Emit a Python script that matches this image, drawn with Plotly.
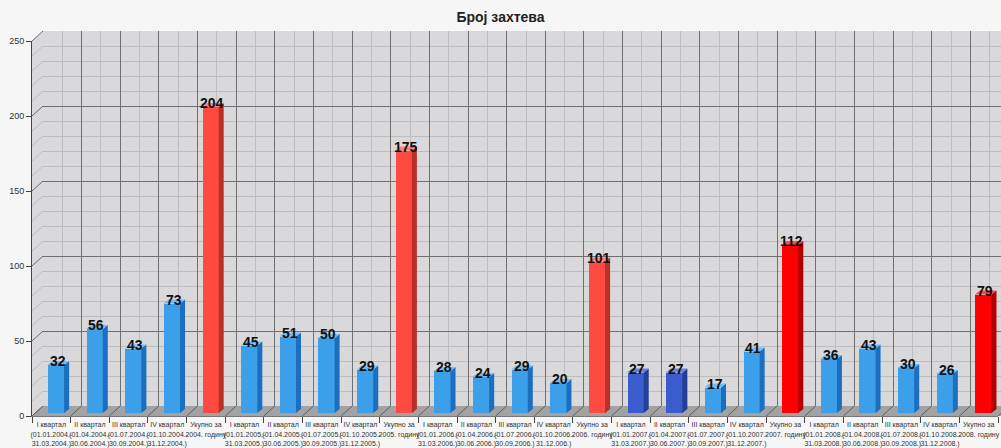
import plotly.graph_objects as go

# ---- data -------------------------------------------------------------
categories = [
    "I квартал<br>(01.01.2004.-<br>31.03.2004.)",
    "II квартал<br>(01.04.2004.-<br>30.06.2004.)",
    "III квартал<br>(01.07.2004.-<br>30.09.2004.)",
    "IV квартал<br>(01.10.2004.-<br>31.12.2004.)",
    "Укупно за<br>2004. годину",
    "I квартал<br>(01.01.2005.-<br>31.03.2005.)",
    "II квартал<br>(01.04.2005.-<br>30.06.2005.)",
    "III квартал<br>(01.07.2005.-<br>30.09.2005.)",
    "IV квартал<br>(01.10.2005.-<br>31.12.2005.)",
    "Укупно за<br>2005. годину",
    "I квартал<br>(01.01.2006.-<br>31.03.2006.)",
    "II квартал<br>(01.04.2006.-<br>30.06.2006.)",
    "III квартал<br>(01.07.2006.-<br>30.09.2006.)",
    "IV квартал<br>(01.10.2006.-<br>31.12.006.)",
    "Укупно за<br>2006. годину",
    "I квартал<br>(01.01.2007.-<br>31.03.2007.)",
    "II квартал<br>(01.04.2007.-<br>30.06.2007.)",
    "III квартал<br>(01.07.2007.-<br>30.09.2007.)",
    "IV квартал<br>(01.10.2007.-<br>31.12.2007.)",
    "Укупно за<br>2007. годину",
    "I квартал<br>(01.01.2008.-<br>31.03.2008.)",
    "II квартал<br>(01.04.2008.-<br>30.06.2008.)",
    "III квартал<br>(01.07.2008.-<br>30.09.2008.)",
    "IV квартал<br>(01.10.2008.-<br>31.12.2008.)",
    "Укупно за<br>2008. годину",
]
requests = [32, 56, 43, 73, 204,
            45, 51, 50, 29, 175,
            28, 24, 29, 20, 101,
            27, 27, 17, 41, 112,
            36, 43, 30, 26, 79]
bar_group = ["q", "q", "q", "q", "t1",
             "q", "q", "q", "q", "t1",
             "q", "q", "q", "q", "t1",
             "d", "d", "q", "q", "t2",
             "q", "q", "q", "q", "t2"]
y_ticks = [0, 50, 100, 150, 200, 250]

# ---- styling ---------------------------------------------------------
palette = {  # front, side, top
    "q": ("#3c9fea", "#1c6fbf", "#74bdf2"),
    "d": ("#3a5ccc", "#253f98", "#6482de"),
    "t1": ("#ff4a42", "#b92f29", "#ff8079"),
    "t2": ("#ff0000", "#b00000", "#ff4a4a"),
}
W, H = 1001, 448
L, R, T, B = 32, 0, 31, 32
PW, PH = W - L - R, H - T - B
BASE = H - B            # pixel row of the front floor edge
STEP = 38.64            # pixels per category
YMAX = 250
BACK_DX, BACK_DY = 11, 10
FRONT_W, FRONT_H = 25 * STEP, PH - BACK_DY
UNIT = FRONT_H / YMAX   # pixels per request
BAR_DX, BAR_DY = 4.5, 3
BAR_W = 0.43
DEPTH_X, DEPTH_Y = 5 / STEP, 4 / UNIT


def px(x):
    return (x - L) / PW


def py(y):
    return (H - B - y) / PH


n = len(requests)
fig = go.Figure()

for key, (front, side, top) in palette.items():
    idx = [i for i in range(n) if bar_group[i] == key]
    # front faces
    fig.add_trace(go.Bar(
        x=idx, y=[requests[i] for i in idx], width=BAR_W,
        marker=dict(color=front, line=dict(width=0)),
        xaxis="x3", yaxis="y3", showlegend=False, hoverinfo="skip"))
    # side and top faces
    sx, sy, tx, ty = [], [], [], []
    for i in idx:
        v = requests[i]
        r0 = i + BAR_W / 2
        l0 = i - BAR_W / 2
        sx += [r0, r0 + DEPTH_X, r0 + DEPTH_X, r0, r0, None]
        sy += [0, DEPTH_Y, v + DEPTH_Y, v, 0, None]
        tx += [l0, r0, r0 + DEPTH_X, l0 + DEPTH_X, l0, None]
        ty += [v, v, v + DEPTH_Y, v + DEPTH_Y, v, None]
    fig.add_trace(go.Scatter(x=sx, y=sy, fill="toself", fillcolor=side,
                             mode="lines", line=dict(width=0),
                             xaxis="x3", yaxis="y3", showlegend=False, hoverinfo="skip"))
    fig.add_trace(go.Scatter(x=tx, y=ty, fill="toself", fillcolor=top,
                             mode="lines", line=dict(width=0),
                             xaxis="x3", yaxis="y3", showlegend=False, hoverinfo="skip"))

# value labels
annotations = []
for i, v in enumerate(requests):
    annotations.append(dict(
        x=i, y=v, xref="x3", yref="y3", text=f"<b>{v}</b>", showarrow=False,
        xanchor="center", yanchor="middle", xshift=2, yshift=4,
        font=dict(family="Liberation Sans, Arial", size=14, color="#111111")))

# walls and floor
shapes = [
    dict(type="path", xref="paper", yref="paper", layer="below",
         path=(f"M{px(L)},{py(BASE - FRONT_H)} L{px(L + BACK_DX)},{py(BASE - FRONT_H - BACK_DY)} "
               f"L{px(W)},{py(BASE - FRONT_H - BACK_DY)} L{px(W)},{py(BASE - BACK_DY)} "
               f"L{px(L + BACK_DX)},{py(BASE - BACK_DY)} L{px(L)},{py(BASE)} Z"),
         fillcolor="#d9d9dc", line=dict(width=0)),
    dict(type="path", xref="paper", yref="paper", layer="below",
         path=(f"M{px(L)},{py(BASE)} L{px(W)},{py(BASE)} L{px(W)},{py(BASE - BACK_DY)} "
               f"L{px(L + BACK_DX)},{py(BASE - BACK_DY)} Z"),
         fillcolor="#a2a2a2", line=dict(width=0)),
]
# floor divisions
for k in range(n + 1):
    x0 = L + k * STEP
    shapes.append(dict(type="line", xref="paper", yref="paper", layer="below",
                       x0=px(x0), y0=py(BASE), x1=px(x0 + BACK_DX), y1=py(BASE - BACK_DY),
                       line=dict(color="#5f5f5f", width=1)))
# side wall divisions
for v in range(0, YMAX + 1, 10):
    yf = BASE - v * UNIT
    major = v % 50 == 0
    shapes.append(dict(type="line", xref="paper", yref="paper", layer="below",
                       x0=px(L), y0=py(yf), x1=px(L + BACK_DX), y1=py(yf - BACK_DY),
                       line=dict(color="#6a6a6a" if major else "#bcbcbe", width=1)))

axis_font = dict(family="Liberation Sans, Arial", color="#333333")
fig.update_layout(
    width=W, height=H,
    margin=dict(l=L, r=R, t=T, b=B, autoexpand=False),
    paper_bgcolor="#f6f6f6", plot_bgcolor="rgba(0,0,0,0)",
    title=dict(text="<b>Број захтева</b>", x=0.5, xanchor="center",
               y=1 - 17 / H, yanchor="middle", automargin=False,
               font=dict(family="Liberation Sans, Arial", size=14, color="#222222")),
    bargap=0,
    # front frame with tick labels
    xaxis=dict(domain=[0, FRONT_W / PW], range=[-0.5, n - 0.5], anchor="y",
               automargin=False,
               tickmode="array", tickvals=list(range(n)), ticktext=categories,
               ticks="outside", ticklen=2, tickcolor="rgba(0,0,0,0)",
               showgrid=False, zeroline=False,
               showline=True, linecolor="#777777", linewidth=1,
               tickfont=dict(size=7, **axis_font), tickangle=0,
               minor=dict(tickmode="array", tickvals=[k - 0.5 for k in range(n + 1)],
                          ticks="outside", ticklen=6, tickcolor="#444444", showgrid=False)),
    yaxis=dict(domain=[0, FRONT_H / PH], range=[0, YMAX], anchor="x",
               automargin=False,
               tickmode="array", tickvals=y_ticks, ticks="outside", ticklen=5,
               tickcolor="#444444", showgrid=False, zeroline=False,
               showline=True, linecolor="#444444", linewidth=1,
               tickfont=dict(size=9, **axis_font)),
    # back wall grid
    xaxis2=dict(domain=[BACK_DX / PW, 1], range=[-0.5, -0.5 + (PW - BACK_DX) / STEP],
                anchor="y2", automargin=False,
                tickmode="array", tickvals=[k - 0.5 for k in range(n + 1)],
                showticklabels=False, ticks="", showgrid=True, gridcolor="#707070",
                gridwidth=1, zeroline=False, showline=False,
                minor=dict(tickmode="array", tickvals=list(range(n)), showgrid=True,
                           gridcolor="#bdbdc0", gridwidth=1)),
    yaxis2=dict(domain=[BACK_DY / PH, 1], range=[0, YMAX], anchor="x2",
                automargin=False,
                tickmode="linear", tick0=0, dtick=50, showticklabels=False, ticks="",
                showgrid=True, gridcolor="#707070", gridwidth=1, zeroline=False,
                minor=dict(dtick=10, showgrid=True, gridcolor="#bdbdc0", gridwidth=1)),
    # bars sit part-way into the depth
    xaxis3=dict(domain=[BAR_DX / PW, 1], range=[-0.5, -0.5 + (PW - BAR_DX) / STEP],
                anchor="y3", visible=False, automargin=False),
    yaxis3=dict(domain=[BAR_DY / PH, (FRONT_H + BAR_DY) / PH], range=[0, YMAX],
                anchor="x3", visible=False, automargin=False),
    shapes=shapes,
    annotations=annotations,
)
# empty traces keep the wall and frame subplots drawn
fig.add_trace(go.Scatter(x=[None], y=[None], xaxis="x2", yaxis="y2",
                         showlegend=False, hoverinfo="skip"))
fig.add_trace(go.Scatter(x=[None], y=[None], xaxis="x", yaxis="y",
                         showlegend=False, hoverinfo="skip"))

fig.write_html("out.html")
